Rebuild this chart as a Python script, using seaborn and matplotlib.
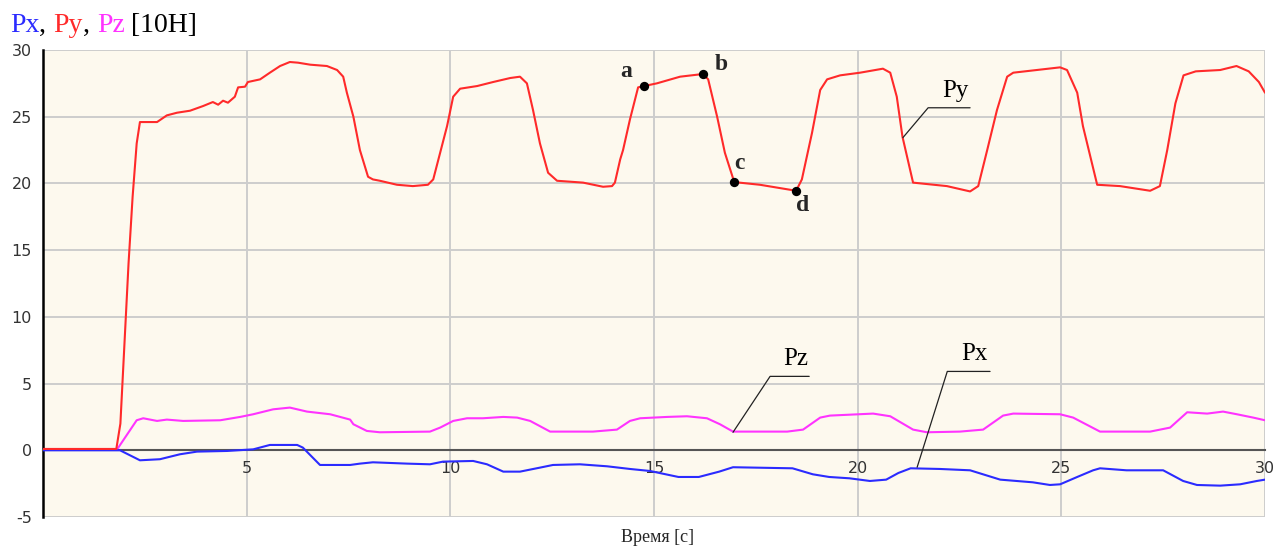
import numpy as np
import pandas as pd
import matplotlib
matplotlib.use("Agg")
import matplotlib.pyplot as plt
from matplotlib.ticker import MultipleLocator, FixedLocator
import seaborn as sns

# ---------------- data ----------------
py_t = [0.0, 1.8, 1.9, 2.0, 2.1, 2.2, 2.3, 2.38, 2.8, 3.04, 3.29, 3.61, 3.93, 4.17, 4.3, 4.42,
        4.54, 4.71, 4.79, 4.96, 5.03, 5.33, 5.57, 5.82, 6.06, 6.26, 6.56, 6.97, 7.22, 7.37,
        7.46, 7.62, 7.78, 7.98, 8.1, 8.27, 8.69, 9.08, 9.45, 9.58, 9.75, 9.92, 10.07, 10.24,
        10.66, 11.05, 11.47, 11.71, 11.88, 12.03, 12.2, 12.4, 12.62, 13.26, 13.75, 13.97,
        14.04, 14.17, 14.24, 14.41, 14.61, 14.76, 15.07, 15.64, 16.2, 16.33, 16.55, 16.74,
        16.97, 17.6, 18.49, 18.63, 18.88, 19.08, 19.25, 19.57, 20.06, 20.62, 20.8, 20.96,
        21.1, 21.36, 22.19, 22.76, 22.96, 23.18, 23.42, 23.67, 23.82, 24.97, 25.14, 25.39,
        25.53, 25.88, 26.44, 27.18, 27.42, 27.6, 27.8, 28.0, 28.3, 28.9, 29.3, 29.6, 29.85, 30.0]
py_v = [0.1, 0.1, 2.0, 8.0, 14.0, 19.0, 23.0, 24.6, 24.6, 25.1, 25.3, 25.45, 25.8, 26.1, 25.9, 26.2,
        26.05, 26.5, 27.2, 27.25, 27.6, 27.8, 28.3, 28.8, 29.1, 29.05, 28.9, 28.8, 28.5, 28.0,
        26.8, 25.0, 22.5, 20.5, 20.3, 20.2, 19.9, 19.8, 19.9, 20.3, 22.3, 24.3, 26.5, 27.1,
        27.3, 27.6, 27.9, 28.0, 27.5, 25.5, 23.0, 20.8, 20.2, 20.06, 19.75, 19.8,
        20.06, 21.8, 22.5, 24.8, 27.2, 27.3, 27.5, 28.0, 28.2, 27.8, 25.0, 22.3,
        20.1, 19.9, 19.45, 20.3, 23.8, 27.0, 27.8, 28.1, 28.3, 28.6, 28.3, 26.5,
        23.5, 20.06, 19.8, 19.4, 19.8, 22.5, 25.5, 28.0, 28.3, 28.7, 28.5, 26.8,
        24.3, 19.9, 19.8, 19.45, 19.8, 22.5, 26.0, 28.1, 28.4, 28.5, 28.8, 28.4, 27.6, 26.8]

pz_t = [0.0, 1.82, 2.3, 2.46, 2.8, 3.04, 3.44, 4.35, 4.84, 5.16, 5.65, 6.06, 6.48, 7.05, 7.54,
        7.62, 7.95, 8.27, 9.5, 9.75, 10.07, 10.41, 10.8, 11.3, 11.64, 11.96, 12.45, 13.5, 14.09,
        14.41, 14.66, 15.32, 15.81, 16.3, 16.62, 16.94, 18.27, 18.66, 19.08, 19.32, 20.38, 20.8,
        21.36, 21.7, 22.51, 23.08, 23.57, 23.82, 24.97, 25.29, 25.95, 27.18, 27.67, 28.09, 28.58,
        28.97, 29.31, 29.71, 30.0]
pz_v = [0.07, 0.07, 2.25, 2.4, 2.2, 2.3, 2.2, 2.25, 2.5, 2.7, 3.07, 3.2, 2.9, 2.7, 2.3,
        1.95, 1.45, 1.35, 1.4, 1.7, 2.2, 2.4, 2.4, 2.5, 2.45, 2.2, 1.4, 1.4, 1.55,
        2.2, 2.4, 2.5, 2.55, 2.4, 1.95, 1.4, 1.4, 1.55, 2.45, 2.6, 2.75, 2.55,
        1.55, 1.35, 1.4, 1.55, 2.6, 2.75, 2.7, 2.45, 1.4, 1.4, 1.7, 2.85, 2.75,
        2.9, 2.7, 2.45, 2.25]

px_t = [0.0, 1.89, 2.38, 2.87, 3.36, 3.78, 4.52, 5.16, 5.57, 6.24, 6.38, 6.8, 7.54, 7.78, 8.1,
        8.94, 9.5, 9.82, 10.56, 10.9, 11.3, 11.71, 12.2, 12.52, 13.18, 13.85, 14.41, 14.9,
        15.6, 16.1, 16.6, 16.94, 18.4, 18.9, 19.3, 19.8, 20.3, 20.7, 21.0, 21.3, 22.02, 22.76,
        23.5, 24.3, 24.72, 24.97, 25.39, 25.78, 25.95, 26.6, 27.5, 27.99, 28.33, 28.9, 29.39,
        29.8, 30.0]
px_v = [0.0, 0.0, -0.75, -0.67, -0.3, -0.1, -0.05, 0.07, 0.4, 0.4, 0.2, -1.1, -1.1, -1.0, -0.9,
        -1.0, -1.05, -0.85, -0.8, -1.05, -1.6, -1.6, -1.3, -1.1, -1.05, -1.2, -1.4, -1.55,
        -2.0, -2.0, -1.6, -1.27, -1.35, -1.8, -2.0, -2.1, -2.3, -2.2, -1.7, -1.35, -1.4, -1.5,
        -2.2, -2.4, -2.6, -2.55, -2.0, -1.5, -1.35, -1.5, -1.5, -2.3, -2.6, -2.65, -2.55,
        -2.3, -2.2]

# marked points on Py
pt_names = ["a", "b", "c", "d"]
pt_t = [14.76, 16.2, 16.97, 18.49]
pt_v = [27.3, 28.2, 20.1, 19.45]

# leader-line labels: anchor on curve, elbow, end of shelf
lab_names = ["Py", "Pz", "Px"]
lab_anchor_t = [21.11, 16.94, 21.46]
lab_anchor_v = [23.43, 1.35, -1.27]
lab_elbow_t = [21.73, 17.85, 22.2]
lab_elbow_v = [25.67, 5.54, 5.91]
lab_end_t = [22.76, 18.81, 23.25]

x_ticks = [5, 10, 15, 20, 25, 30]
y_ticks = [-5, 0, 5, 10, 15, 20, 25, 30]

# ---------------- style ----------------
sns.set_style("white")
plt.rcParams["font.family"] = ["DejaVu Sans"]

W, H = 1277, 547
fig = plt.figure(figsize=(W / 100, H / 100), dpi=100)
ax = fig.add_axes([43 / W, 1 - 517 / H, (1265 - 43) / W, (517 - 50) / H])
ax.set_facecolor("#FDF9EE")

c_py, c_pz, c_px = "#FF2A2A", "#FF33FF", "#2B2BFF"
for t, v, c in [(pz_t, pz_v, c_pz), (px_t, px_v, c_px), (py_t, py_v, c_py)]:
    sns.lineplot(x=t, y=v, color=c, lw=1.5, ax=ax, sort=False, estimator=None, zorder=3)

sns.scatterplot(x=pt_t, y=pt_v, color="black", s=45, ax=ax, zorder=5, edgecolor="black", linewidth=0)

ax.set_xlim(0, 30)
ax.set_ylim(-5, 30)

# grid
ax.xaxis.set_major_locator(FixedLocator(x_ticks))
ax.yaxis.set_major_locator(FixedLocator(y_ticks))
ax.xaxis.set_minor_locator(MultipleLocator(2.5))
ax.yaxis.set_minor_locator(MultipleLocator(2.5))
ax.grid(True, which="major", color="#CDCDCD", lw=1.4, zorder=0)
ax.set_axisbelow(True)

# spines
for s in ["top", "right", "bottom"]:
    ax.spines[s].set_visible(False)
ax.spines["left"].set_color("black")
ax.spines["left"].set_linewidth(1.8)
ax.spines["bottom"].set_visible(True)
ax.spines["bottom"].set_position(("data", 0))
ax.spines["bottom"].set_color("#555555")
ax.spines["bottom"].set_linewidth(1.5)
ax.spines["bottom"].set_zorder(2.5)

tick_font = dict(labelsize=11.5, labelcolor="#333333")
ax.tick_params(axis="y", which="major", direction="out", length=5, width=1.2, color="black", pad=3, **tick_font)
ax.tick_params(axis="y", which="minor", direction="out", length=3, width=1.0, color="black")
ax.tick_params(axis="x", which="major", direction="out", length=3, width=1.0, color="#555555", pad=5, **tick_font)
ax.tick_params(axis="x", which="minor", direction="out", length=3, width=1.0, color="#555555")
ax.set_xticklabels([str(v) for v in x_ticks])
ax.set_yticklabels([str(v) for v in y_ticks])
ax.set_xlabel("")
ax.set_ylabel("")

serif = ["Liberation Serif", "DejaVu Serif"]

# leader-line labels
for name, at, av, et, ev, zt in zip(lab_names, lab_anchor_t, lab_anchor_v, lab_elbow_t, lab_elbow_v, lab_end_t):
    ax.plot([at, et, zt], [av, ev, ev], color="#222222", lw=0.9, zorder=4)
    ax.text((et + zt) / 2 + 0.15, ev + 0.45, name, family=serif, fontsize=18, ha="center",
            va="bottom", color="black", zorder=6)

# point letters
offs = {"a": (-0.3, 0.3, "right", "bottom"), "b": (0.3, -0.1, "left", "bottom"),
        "c": (0.0, 0.6, "left", "bottom"), "d": (0.0, -0.35, "left", "top")}
for n, t, v in zip(pt_names, pt_t, pt_v):
    dx, dy, ha, va = offs[n]
    ax.text(t + dx, v + dy, n, family=serif, fontsize=17, fontweight="bold", ha=ha, va=va, zorder=6)

# x label
fig.text(658 / W, 1 - 542 / H, "Время [с]", family=serif, fontsize=13, ha="center", va="baseline")

# multi-coloured title
parts = [("Px", c_px), (", ", "black"), ("Py", c_py), (", ", "black"), ("Pz", c_pz), (" [10H]", "black")]
fig.canvas.draw()
renderer = fig.canvas.get_renderer()
xpix = 10
for s, c in parts:
    tx = fig.text(xpix / W, 1 - 32 / H, s, family=serif, fontsize=20, color=c, ha="left", va="baseline")
    bb = tx.get_window_extent(renderer=renderer)
    xpix += bb.width

fig.savefig("out.png", dpi=100)
